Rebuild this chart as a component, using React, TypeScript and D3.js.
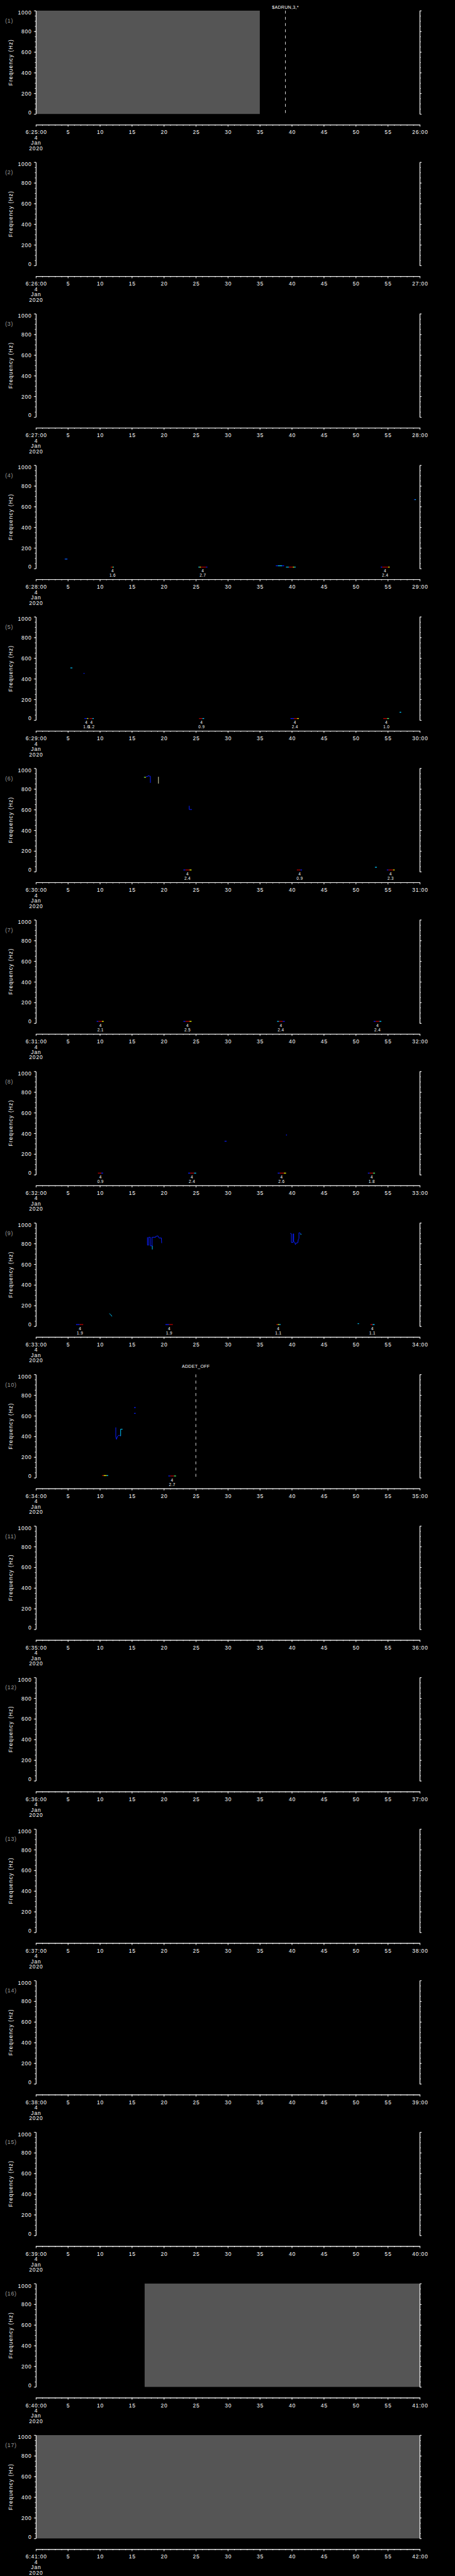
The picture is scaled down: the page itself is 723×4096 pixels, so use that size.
import React, { useRef, useEffect } from "react";
import * as d3 from "d3";

// reference canvas, drawn through a viewBox so that it shrinks to the window
const W = 1024;
const H = 5802;
const N_PANELS = 17;
const PANEL_H = H / N_PANELS;

const startLabels = [
  "6:25:00", "6:26:00", "6:27:00", "6:28:00", "6:29:00", "6:30:00", "6:31:00", "6:32:00", "6:33:00",
  "6:34:00", "6:35:00", "6:36:00", "6:37:00", "6:38:00", "6:39:00", "6:40:00", "6:41:00",
];
const endLabels = [
  "26:00", "27:00", "28:00", "29:00", "30:00", "31:00", "32:00", "33:00", "34:00",
  "35:00", "36:00", "37:00", "38:00", "39:00", "40:00", "41:00", "42:00",
];
const dateLines = ["4", "Jan", "2020"];
const xMajor = [0, 5, 10, 15, 20, 25, 30, 35, 40, 45, 50, 55, 60];
const yMajor = [0, 200, 400, 600, 800, 1000];

// grey = no data (seconds into the minute)
const noDataSpans = [
  { panel: 1, t0: 0, t1: 35 },
  { panel: 16, t0: 17, t1: 60 },
  { panel: 17, t0: 0, t1: 60 },
];

// command markers (dashed line + label); level 0 = high, 1 = higher
const markers = [
  { panel: 1, t: 39, label: "$ADRUN,3,*", level: 0 },
  { panel: 10, t: 25, label: "ADDET_OFF", level: 1 },
];

// short spectrogram pieces: colour codes b c y r g along time
const pieces = [
  { panel: 4, t0: 4.5, t1: 4.95, f: 92, colors: "bcb" },
  { panel: 4, t0: 11.7, t1: 12.2, f: 14, colors: "rryc" },
  { panel: 4, t0: 25.4, t1: 26.8, f: 14, colors: "cyrrrrb" },
  { panel: 4, t0: 37.5, t1: 38.8, f: 27, colors: "bccb" },
  { panel: 4, t0: 39.1, t1: 40.6, f: 14, colors: "ccrrryc" },
  { panel: 4, t0: 53.9, t1: 55.3, f: 14, colors: "brrrry" },
  { panel: 4, t0: 59.1, t1: 59.4, f: 667, colors: "bc" },
  { panel: 5, t0: 5.4, t1: 5.7, f: 505, colors: "cc" },
  { panel: 5, t0: 7.45, t1: 7.6, f: 452, colors: "b" },
  { panel: 5, t0: 7.6, t1: 8.2, f: 15, colors: "bby" },
  { panel: 5, t0: 8.4, t1: 9.05, f: 15, colors: "rrc" },
  { panel: 5, t0: 25.5, t1: 26.3, f: 15, colors: "rrc" },
  { panel: 5, t0: 39.8, t1: 41.1, f: 15, colors: "bbrry" },
  { panel: 5, t0: 54.3, t1: 55.2, f: 15, colors: "rrg" },
  { panel: 5, t0: 56.85, t1: 57.1, f: 76, colors: "c" },
  { panel: 6, t0: 16.9, t1: 17.2, f: 913, colors: "gy" },
  { panel: 6, t0: 23.06, t1: 24.33, f: 16, colors: "brry" },
  { panel: 6, t0: 40.8, t1: 41.6, f: 16, colors: "rrb" },
  { panel: 6, t0: 53.0, t1: 53.3, f: 42, colors: "c" },
  { panel: 6, t0: 54.86, t1: 56.08, f: 16, colors: "brrry" },
  { panel: 7, t0: 9.5, t1: 10.6, f: 17, colors: "brry" },
  { panel: 7, t0: 23.06, t1: 24.33, f: 17, colors: "brry" },
  { panel: 7, t0: 37.7, t1: 38.9, f: 17, colors: "crrb" },
  { panel: 7, t0: 52.8, t1: 54.0, f: 17, colors: "brrc" },
  { panel: 8, t0: 9.7, t1: 10.5, f: 15, colors: "rrb" },
  { panel: 8, t0: 23.8, t1: 25.05, f: 15, colors: "brrc" },
  { panel: 8, t0: 29.5, t1: 29.8, f: 324, colors: "bb" },
  { panel: 8, t0: 37.8, t1: 39.1, f: 15, colors: "brry" },
  { panel: 8, t0: 39.1, t1: 39.25, f: 384, colors: "b" },
  { panel: 8, t0: 51.9, t1: 53.0, f: 15, colors: "brrg" },
  { panel: 9, t0: 6.28, t1: 7.4, f: 16, colors: "bbrr" },
  { panel: 9, t0: 20.25, t1: 21.4, f: 16, colors: "bbrr" },
  { panel: 9, t0: 37.6, t1: 38.25, f: 16, colors: "ryc" },
  { panel: 9, t0: 50.3, t1: 50.5, f: 25, colors: "c" },
  { panel: 9, t0: 52.3, t1: 52.95, f: 16, colors: "rc" },
  { panel: 10, t0: 10.36, t1: 11.3, f: 21, colors: "ryyc" },
  { panel: 10, t0: 15.35, t1: 15.6, f: 679, colors: "b" },
  { panel: 10, t0: 15.35, t1: 15.6, f: 623, colors: "bb" },
  { panel: 10, t0: 20.7, t1: 21.9, f: 17, colors: "brrg" },
];

// traced tones: [seconds, Hz]
const traces = [
  { panel: 6, color: "b", points: [[17.2, 918], [17.6, 925], [17.6, 931], [17.7, 925], [17.9, 923], [17.9, 859]] },
  { panel: 6, color: "w", points: [[19.16, 918], [19.16, 852]] },
  { panel: 6, color: "b", points: [[23.97, 637], [23.97, 601], [24.4, 601]] },
  { panel: 9, color: "c", points: [[11.5, 123], [11.7, 110], [11.9, 95]] },
  {
    panel: 9, color: "b",
    points: [[17.44, 861], [17.44, 785], [17.62, 785], [17.62, 861], [17.89, 861], [17.89, 778], [18.16, 778],
      [18.16, 861], [18.71, 861], [18.71, 868], [19.07, 875], [19.25, 854], [19.62, 854], [19.66, 804]],
  },
  { panel: 9, color: "c", points: [[18.2, 778], [18.2, 743]] },
  {
    panel: 9, color: "b",
    points: [[39.76, 899], [39.94, 894], [39.94, 811], [40.21, 811], [40.21, 894], [40.3, 894], [40.3, 818],
      [40.48, 811], [40.57, 789], [40.66, 804], [40.94, 808], [41.03, 842], [41.12, 847], [41.12, 905],
      [41.21, 905], [41.39, 897], [41.48, 890]],
  },
  { panel: 9, color: "c", points: [[41.35, 890], [41.5, 890]] },
  { panel: 10, color: "b", points: [[12.49, 487], [12.49, 400], [12.6, 372], [12.75, 400], [13.0, 412], [13.25, 404]] },
  { panel: 10, color: "c", points: [[13.25, 404], [13.25, 470], [13.55, 470]] },
];

// note labels under the pieces: mode / value
const notes = [
  { panel: 4, t: 12.0, top: "4", bottom: "1.6" },
  { panel: 4, t: 26.1, top: "4", bottom: "2.7" },
  { panel: 4, t: 54.6, top: "4", bottom: "2.4" },
  { panel: 5, t: 7.9, top: "4", bottom: "1.6" },
  { panel: 5, t: 8.7, top: "4", bottom: "1.2" },
  { panel: 5, t: 25.9, top: "4", bottom: "0.9" },
  { panel: 5, t: 40.5, top: "4", bottom: "2.4" },
  { panel: 5, t: 54.8, top: "4", bottom: "1.0" },
  { panel: 6, t: 23.7, top: "4", bottom: "2.4" },
  { panel: 6, t: 41.25, top: "4", bottom: "0.9" },
  { panel: 6, t: 55.45, top: "4", bottom: "2.3" },
  { panel: 7, t: 10.1, top: "4", bottom: "2.1" },
  { panel: 7, t: 23.7, top: "4", bottom: "2.5" },
  { panel: 7, t: 38.3, top: "4", bottom: "2.4" },
  { panel: 7, t: 53.4, top: "4", bottom: "2.4" },
  { panel: 8, t: 10.1, top: "4", bottom: "0.9" },
  { panel: 8, t: 24.4, top: "4", bottom: "2.4" },
  { panel: 8, t: 38.4, top: "4", bottom: "2.6" },
  { panel: 8, t: 52.5, top: "4", bottom: "1.8" },
  { panel: 9, t: 6.9, top: "4", bottom: "1.9" },
  { panel: 9, t: 20.84, top: "4", bottom: "1.9" },
  { panel: 9, t: 37.9, top: "4", bottom: "1.1" },
  { panel: 9, t: 52.6, top: "4", bottom: "1.1" },
  { panel: 10, t: 21.3, top: "4", bottom: "2.7" },
];

const palette: Record<string, string> = {
  b: "#0a1eff",
  c: "#00c8ff",
  y: "#ffff00",
  r: "#c00000",
  g: "#50ff70",
  w: "#e0e0b0",
};

const FONT = "'Liberation Sans', 'DejaVu Sans', sans-serif";

const App = () => {
  const svgRef = useRef<SVGSVGElement>(null);

  useEffect(() => {
    document.body.style.margin = "0";
    document.body.style.background = "#000";
    const svg = d3.select(svgRef.current);
    svg.selectAll("*").remove();

    const margin = { left: 80.7, right: 944.7, top: 24, bottom: 256.7, axis: 281 };
    const x = d3.scaleLinear().domain([0, 60]).range([margin.left, margin.right]);
    const y = d3.scaleLinear().domain([0, 1000]).range([margin.bottom, margin.top]);

    const panels = d3.range(N_PANELS).map((i) =>
      svg.append("g").attr("transform", `translate(0,${i * PANEL_H})`)
    );

    const styleAxis = (g) => {
      g.selectAll("path, line").attr("stroke", "#fff").attr("stroke-width", 1.2);
      g.selectAll("text")
        .attr("fill", "#fff")
        .attr("font-family", FONT)
        .attr("font-size", 12)
        .attr("letter-spacing", 1.2);
    };

    panels.forEach((g, i) => {
      // no-data fills first, under the axes
      noDataSpans
        .filter((s) => s.panel === i + 1)
        .forEach((s) => {
          g.append("rect")
            .attr("x", x(s.t0))
            .attr("y", y(1000))
            .attr("width", x(s.t1) - x(s.t0))
            .attr("height", y(0) - y(1000))
            .attr("fill", "#555555");
        });

      // left axis
      const left = g.append("g").attr("transform", `translate(${margin.left},0)`);
      left.append("g").call(d3.axisLeft(y).tickValues(d3.range(0, 1001, 50)).tickSize(2.5).tickSizeOuter(0).tickFormat(() => ""));
      left.append("g").call(
        d3.axisLeft(y).tickValues(yMajor).tickSize(4.5).tickSizeOuter(0).tickPadding(4.5).tickFormat(d3.format("d"))
      );
      styleAxis(left);
      left.selectAll(".tick text").attr("dy", (d) => (d === 1000 ? "0.72em" : d === 0 ? "0em" : "0.36em"));

      // right axis
      const right = g.append("g").attr("transform", `translate(${margin.right},0)`);
      right.append("g").call(d3.axisRight(y).tickValues(d3.range(0, 1001, 50)).tickSize(2.5).tickSizeOuter(0).tickFormat(() => ""));
      right.append("g").call(d3.axisRight(y).tickValues(yMajor).tickSize(4.5).tickSizeOuter(0).tickFormat(() => ""));
      styleAxis(right);

      // time axis
      const bottom = g.append("g").attr("transform", `translate(0,${margin.axis})`);
      bottom.append("g").call(d3.axisBottom(x).tickValues(d3.range(0, 61, 1)).tickSize(2.2).tickSizeOuter(0).tickFormat(() => ""));
      bottom.append("g").call(
        d3.axisBottom(x)
          .tickValues(xMajor)
          .tickSize(4.5)
          .tickSizeOuter(0)
          .tickFormat((d) => (d === 0 ? startLabels[i] : d === 60 ? endLabels[i] : String(d)))
      );
      styleAxis(bottom);
      bottom.selectAll(".tick text").attr("y", 17).attr("dy", "0.36em").attr("dx", 0.6);
      dateLines.forEach((t, k) => {
        bottom.append("text")
          .attr("x", x(0) + 0.6)
          .attr("y", 29 + k * 12)
          .attr("dy", "0.36em")
          .attr("text-anchor", "middle")
          .attr("fill", "#fff")
          .attr("font-family", FONT)
          .attr("font-size", 12)
          .attr("letter-spacing", 1.2)
          .text(t);
      });

      // panel number + y title
      g.append("text")
        .attr("x", 11.5)
        .attr("y", 46.7)
        .attr("dy", "0.36em")
        .attr("fill", "#9a9a9a")
        .attr("font-family", FONT)
        .attr("font-size", 12.5)
        .attr("letter-spacing", 1)
        .text(`(${i + 1})`);
      g.append("text")
        .attr("transform", `translate(23.5,${(y(0) + y(1000)) / 2}) rotate(-90)`)
        .attr("text-anchor", "middle")
        .attr("dy", "0.36em")
        .attr("fill", "#fff")
        .attr("font-family", FONT)
        .attr("font-size", 12)
        .attr("letter-spacing", 1.6)
        .text("Frequency (Hz)");
    });

    // command markers
    markers.forEach((m) => {
      const g = panels[m.panel - 1];
      g.append("line")
        .attr("x1", x(m.t))
        .attr("x2", x(m.t))
        .attr("y1", y(1000))
        .attr("y2", y(0))
        .attr("stroke", "#fff")
        .attr("stroke-width", 1.2)
        .attr("stroke-dasharray", "6.5,7.5");
      g.append("text")
        .attr("x", x(m.t))
        .attr("y", m.level === 0 ? 16 : 5.5)
        .attr("dy", "0.36em")
        .attr("text-anchor", "middle")
        .attr("fill", "#fff")
        .attr("font-family", FONT)
        .attr("font-size", 10)
        .attr("letter-spacing", 0.4)
        .text(m.label);
    });

    // spectrogram pieces
    pieces.forEach((p) => {
      const g = panels[p.panel - 1];
      const cells = p.colors.split("");
      const step = (p.t1 - p.t0) / cells.length;
      cells.forEach((c, k) => {
        const a = x(p.t0 + k * step);
        const b = x(p.t0 + (k + 1) * step);
        g.append("rect")
          .attr("x", a)
          .attr("y", y(p.f) - 0.9)
          .attr("width", Math.max(b - a, 1))
          .attr("height", 1.8)
          .attr("fill", palette[c]);
      });
    });

    const line = d3.line<number[]>().x((d) => x(d[0])).y((d) => y(d[1]));
    traces.forEach((tr) => {
      panels[tr.panel - 1]
        .append("path")
        .attr("d", line(tr.points))
        .attr("fill", "none")
        .attr("stroke", palette[tr.color])
        .attr("stroke-width", 1.4);
    });

    // notes under the pieces
    notes.forEach((n) => {
      const g = panels[n.panel - 1];
      [n.top, n.bottom].forEach((t, k) => {
        g.append("text")
          .attr("x", x(n.t))
          .attr("y", 262.3 + k * 9.4)
          .attr("dy", "0.36em")
          .attr("text-anchor", "middle")
          .attr("fill", "#fff")
          .attr("font-family", FONT)
          .attr("font-size", 9)
          .attr("letter-spacing", 0.6)
          .text(t);
      });
    });
  }, []);

  return (
    <svg
      ref={svgRef}
      viewBox={`0 0 ${W} ${H}`}
      width={723}
      height={4096}
      style={{ display: "block", background: "#000" }}
    />
  );
};

export default App;
